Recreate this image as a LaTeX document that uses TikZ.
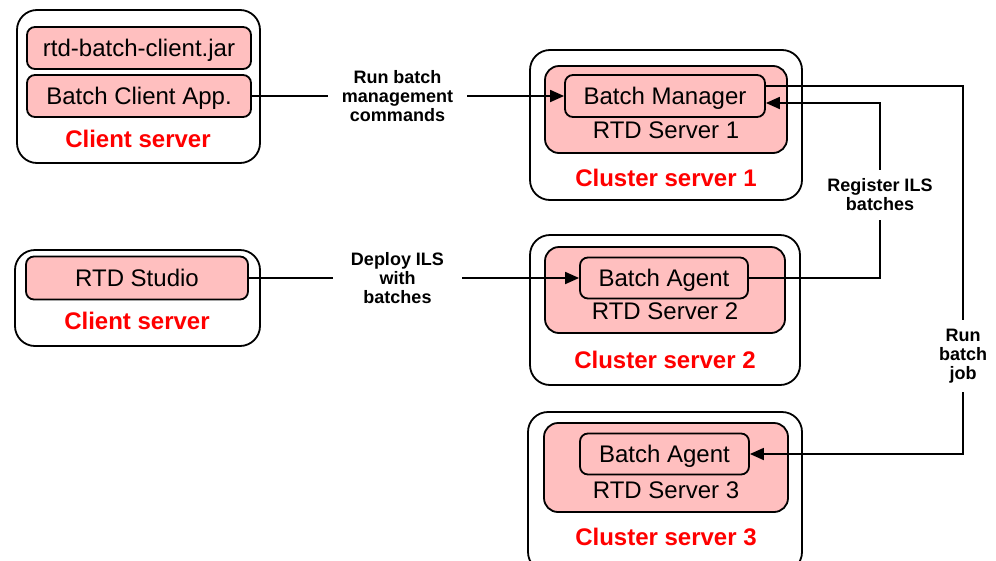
\documentclass[tikz,border=0pt]{standalone}
\usepackage{fontspec}
\setmainfont{Liberation Sans}
\usetikzlibrary{arrows.meta}
\definecolor{pinkbox}{RGB}{255,191,191}
\begin{document}
\begin{tikzpicture}[x=1pt,y=-1pt,
  outerbox/.style={draw=black,line width=1.8pt,fill=white,rounded corners=20pt,inner sep=0pt},
  pinkarea/.style={draw=black,line width=1.8pt,fill=pinkbox,rounded corners=14pt,inner sep=0pt},
  itembox/.style={draw=black,line width=1.8pt,fill=pinkbox,rounded corners=8pt,inner sep=0pt,
     font=\fontsize{24}{28}\selectfont,text height=17pt,text depth=0pt},
  plain/.style={inner sep=0pt,font=\fontsize{24}{28}\selectfont,text height=17pt,text depth=0pt},
  redlbl/.style={inner sep=0pt,text=red,font=\fontsize{24}{28}\selectfont\bfseries,text height=17pt,text depth=0pt},
  conlbl/.style={inner sep=0pt,align=center,font=\fontsize{18}{19}\selectfont\bfseries},
  conn/.style={line width=1.8pt},
  arr/.style={conn,-{Triangle[length=14pt,width=12pt]}}
]
\useasboundingbox (0,0) rectangle (996,560);

% Client server 1
\node[outerbox,minimum width=243pt,minimum height=153pt] (c1) at (138.5,86.5) {};
\node[itembox,minimum width=224pt,minimum height=42pt] (jar) at (139,48) {rtd-batch-client.jar};
\node[itembox,minimum width=224pt,minimum height=42pt] (app) at (139,96) {Batch Client App.};
\node[redlbl] (c1l) at (138,138.5) {Client server};

% Client server 2
\node[outerbox,minimum width=245pt,minimum height=96pt] (c2) at (137.5,298) {};
\node[itembox,minimum width=222pt,minimum height=43pt] (studio) at (137,278) {RTD Studio};
\node[redlbl] (c2l) at (137,321) {Client server};

% Cluster server 1
\node[outerbox,minimum width=272pt,minimum height=150pt] (s1) at (666,125) {};
\node[pinkarea,minimum width=242pt,minimum height=87pt] (p1) at (666,109.5) {};
\node[itembox,minimum width=200pt,minimum height=42pt] (manager) at (665,96) {Batch Manager};
\node[plain] (r1) at (666,130) {RTD Server 1};
\node[redlbl] (s1l) at (666,178) {Cluster server 1};

% Cluster server 2
\node[outerbox,minimum width=270pt,minimum height=150pt] (s2) at (665,310) {};
\node[pinkarea,minimum width=240pt,minimum height=86pt] (p2) at (665,290) {};
\node[itembox,minimum width=168pt,minimum height=41pt] (agent2) at (664,278) {Batch Agent};
\node[plain] (r2) at (665,311) {RTD Server 2};
\node[redlbl] (s2l) at (665,360) {Cluster server 2};

% Cluster server 3
\node[outerbox,minimum width=274pt,minimum height=160pt] (s3) at (665,492) {};
\node[pinkarea,minimum width=244pt,minimum height=89pt] (p3) at (666,467.5) {};
\node[itembox,minimum width=169pt,minimum height=41pt] (agent3) at (664.5,454) {Batch Agent};
\node[plain] (r3) at (666,490) {RTD Server 3};
\node[redlbl] (s3l) at (666,537) {Cluster server 3};

% Connector labels
\node[conlbl,minimum width=139pt] (lblrun) at (397.5,96) {Run batch\\management\\commands};
\node[conlbl,minimum width=129pt] (lbldeploy) at (397.5,278) {Deploy ILS\\with\\batches};
\node[conlbl,minimum height=50pt] (lblreg) at (880,195) {Register ILS\\batches};
\node[conlbl,minimum height=72pt] (lbljob) at (963,356) {Run\\batch\\job};

% Connectors
\draw[conn] (app.east) -- (lblrun.west);
\draw[arr] (lblrun.east) -- (manager.west);
\draw[conn] (studio.east) -- (lbldeploy.west);
\draw[arr] (lbldeploy.east) -- (agent2.west);
\draw[conn] (agent2.east) -| (lblreg.south);
\draw[arr] (lblreg.north) |- ([yshift=-7pt]manager.east);
\draw[conn] ([yshift=10pt]manager.east) -| (lbljob.north);
\draw[arr] (lbljob.south) |- (agent3.east);
\end{tikzpicture}
\end{document}
